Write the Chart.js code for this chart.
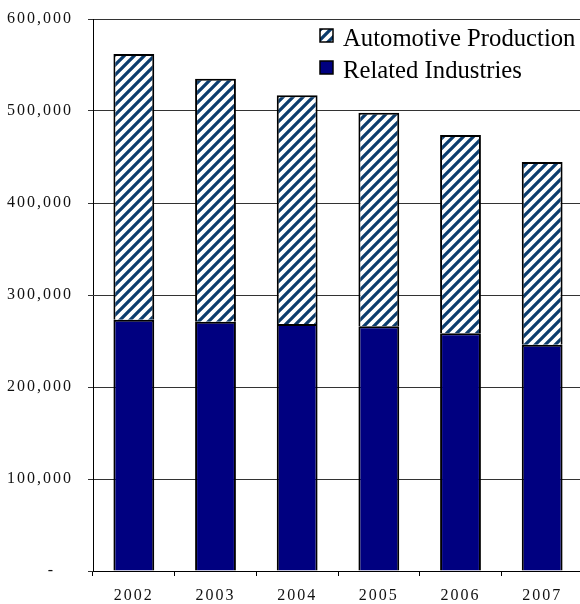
<!DOCTYPE html>
<html>
<head>
<meta charset="utf-8">
<script src="https://cdn.jsdelivr.net/npm/chart.js@4/dist/chart.umd.min.js"></script>
<style>
html, body { margin: 0; padding: 0; background: #fff; overflow: hidden; }
#employment { display: block; }
</style>
</head>
<body>
<canvas id="employment" width="583" height="604"></canvas>
<script>
"use strict";
var years = ['2002', '2003', '2004', '2005', '2006', '2007'];
var relatedIndustries = [273000, 271000, 268500, 266000, 258500, 246000];
var automotiveProduction = [289000, 264000, 248500, 232000, 215500, 198500];
var seriesNames = ['Automotive Production', 'Related Industries'];
var yMax = 600000;
var yStep = 100000;

var canvas = document.getElementById('employment');
var ctx = canvas.getContext('2d');

// diagonal "/" stripes, navy on white
function hatchPattern() {
    var size = 10;
    var tile = document.createElement('canvas');
    tile.width = size;
    tile.height = size;
    var c = tile.getContext('2d');
    c.fillStyle = '#ffffff';
    c.fillRect(0, 0, size, size);
    c.strokeStyle = '#0b3c6d';
    c.lineWidth = 3.3;
    c.beginPath();
    c.moveTo(-2, 2); c.lineTo(2, -2);
    c.moveTo(0, size); c.lineTo(size, 0);
    c.moveTo(size - 2, size + 2); c.lineTo(size + 2, size - 2);
    c.stroke();
    return ctx.createPattern(tile, 'repeat');
}
var hatch = hatchPattern();
var navy = '#000080';

// axis labels are drawn letter-spaced, everything after them is not
var spacedTicks = {
    id: 'spacedTicks',
    beforeDraw: function(chart) { chart.ctx.letterSpacing = '2px'; },
    beforeDatasetsDraw: function(chart) { chart.ctx.letterSpacing = '0px'; }
};

// legend sits inside the plot, top right
var insideLegend = {
    id: 'insideLegend',
    afterDraw: function(chart) {
        var c = chart.ctx;
        var fills = [hatch, navy];
        c.save();
        c.letterSpacing = '0px';
        c.font = '24.7px "Liberation Serif"';
        c.textBaseline = 'alphabetic';
        c.textAlign = 'left';
        for (var i = 0; i < seriesNames.length; i++) {
            var y = 29 + i * 32;
            c.fillStyle = fills[i];
            c.fillRect(320, y, 13, 13);
            c.strokeStyle = '#000';
            c.lineWidth = 1.5;
            c.strokeRect(320, y, 13, 13);
            c.fillStyle = '#000';
            c.fillText(seriesNames[i], 343, y + 16.5);
        }
        c.restore();
    }
};

var tickFont = { family: 'Liberation Serif', size: 16 };

new Chart(ctx, {
    type: 'bar',
    data: {
        labels: years,
        datasets: [{
            label: seriesNames[1],
            data: relatedIndustries,
            backgroundColor: navy,
            borderColor: '#000',
            borderWidth: 2,
            categoryPercentage: 1,
            barPercentage: 0.5
        }, {
            label: seriesNames[0],
            data: automotiveProduction,
            backgroundColor: hatch,
            borderColor: '#000',
            borderWidth: 2,
            categoryPercentage: 1,
            barPercentage: 0.5
        }]
    },
    options: {
        responsive: false,
        animation: false,
        layout: { padding: { top: 19, right: 0, bottom: 0, left: 0 } },
        plugins: {
            legend: { display: false },
            tooltip: { enabled: false }
        },
        scales: {
            x: {
                stacked: true,
                grid: { offset: true, drawOnChartArea: false, tickLength: 5, color: '#000' },
                border: { color: '#000', width: 1 },
                ticks: { color: '#111', font: tickFont, padding: 10 },
                afterFit: function(scale) { scale.height = 33; }
            },
            y: {
                stacked: true,
                min: 0,
                max: yMax,
                grid: { color: '#333', tickLength: 5 },
                border: { color: '#000', width: 1 },
                ticks: {
                    stepSize: yStep,
                    color: '#111',
                    font: tickFont,
                    padding: 15,
                    callback: function(value) {
                        return value === 0 ? '-   ' : value.toLocaleString('en-US');
                    }
                },
                afterFit: function(scale) {
                    // fixed gutter; the plot top comes from layout padding only
                    scale.width = 93;
                    scale.paddingTop = 0;
                    scale.paddingBottom = 0;
                }
            }
        }
    },
    plugins: [spacedTicks, insideLegend]
});
</script>
</body>
</html>
